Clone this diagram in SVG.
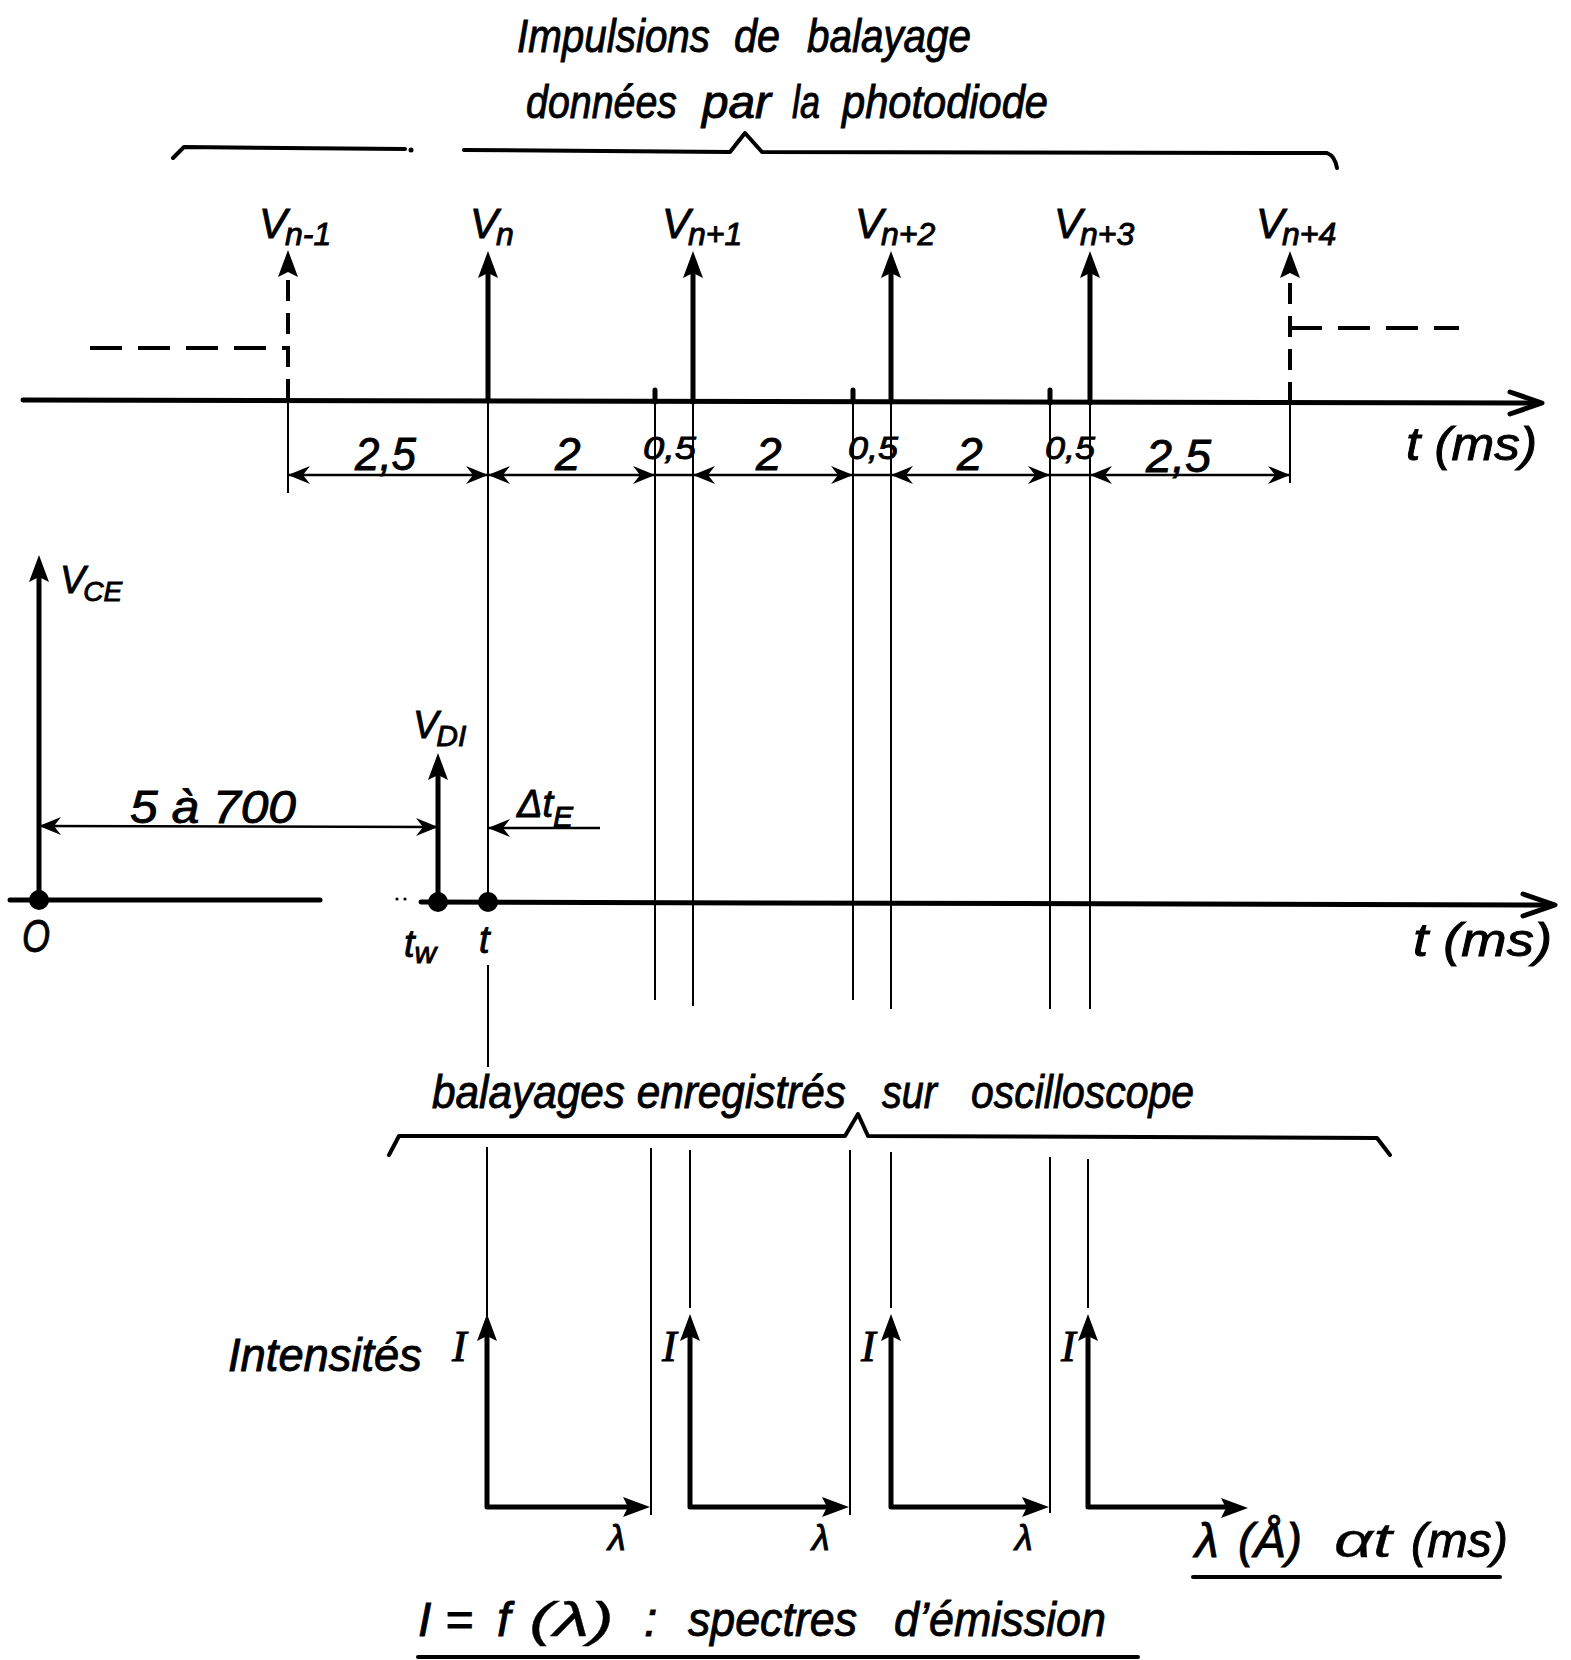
<svg xmlns="http://www.w3.org/2000/svg" width="1571" height="1660" viewBox="0 0 1571 1660">
<style>
.k{stroke:#000;fill:none;stroke-width:5;stroke-linecap:round;stroke-linejoin:round}
.b{stroke:#000;fill:none;stroke-width:4;stroke-linecap:round;stroke-linejoin:round}
.t{stroke:#000;fill:none;stroke-width:2}
.d{stroke:#000;fill:none;stroke-width:2.6}
.ds{stroke:#000;fill:none;stroke-width:4;stroke-dasharray:21 12}
.dh{stroke:#000;fill:none;stroke-width:4;stroke-dasharray:32 16}
text{font-family:"Liberation Sans",Arial,sans-serif;font-style:italic;fill:#000;stroke:#000;stroke-width:0.9}
.s46{font-size:46px}
.s42{font-size:42px}
.s32{font-size:32px}
.sf{font-family:"Liberation Serif","Times New Roman",serif;font-size:44px}
.dot{fill:#000}
</style>
<defs>
<path id="ph" d="M0,0 L10,27 L0,22 L-10,27 Z" fill="#000"/>
<path id="da" d="M0,0 L-22,-9 L-15,0 L-22,9 Z" fill="#000"/>
<path id="ch" d="M-32,-11 L0,0 L-32,11" class="k"/>
</defs>

<g id="title">
<text class="s46" x="517" y="52" textLength="193" lengthAdjust="spacingAndGlyphs">Impulsions</text>
<text class="s46" x="734" y="52" textLength="46" lengthAdjust="spacingAndGlyphs">de</text>
<text class="s46" x="807" y="52" textLength="164" lengthAdjust="spacingAndGlyphs">balayage</text>
<text class="s46" x="526" y="118" textLength="151" lengthAdjust="spacingAndGlyphs">données</text>
<text class="s46" x="702" y="118" textLength="69" lengthAdjust="spacingAndGlyphs">par</text>
<text class="s46" x="792" y="118" textLength="28" lengthAdjust="spacingAndGlyphs">la</text>
<text class="s46" x="842" y="118" textLength="206" lengthAdjust="spacingAndGlyphs">photodiode</text>
</g>

<g id="brace-top">
<path class="b" d="M173,158 L184,147 L405,149"/>
<circle class="dot" cx="411" cy="150" r="2.5"/>
<path class="b" d="M464,150 L730,152 L745,133 L762,152 L1327,153 Q1335,156 1337,168"/>
</g>

<g id="axis-top">
<path class="k" d="M23,400 L1540,403"/>
<use href="#ch" transform="translate(1542,403)"/>
<path class="k" d="M655,390 L655,402 M853,390 L853,402 M1050,390 L1050,403"/>
<text class="s46" x="1406" y="460" textLength="131" lengthAdjust="spacingAndGlyphs">t (ms)</text>
</g>

<g id="pulse-vn-1">
<path class="ds" d="M288,400 L288,276"/>
<use href="#ph" transform="translate(288,250)"/>
<path class="dh" d="M90,348 L288,348"/>
<text class="s42" x="259" y="238">V<tspan class="s32" dy="7" dx="-2">n-1</tspan></text>
</g>
<g id="pulse-vn">
<path class="k" d="M488,401 L488,272"/>
<use href="#ph" transform="translate(488,251)"/>
<text class="s42" x="470" y="238">V<tspan class="s32" dy="7" dx="-2">n</tspan></text>
</g>
<g id="pulse-vn+1">
<path class="k" d="M693,402 L693,272"/>
<use href="#ph" transform="translate(693,251)"/>
<text class="s42" x="662" y="238">V<tspan class="s32" dy="7" dx="-2">n+1</tspan></text>
</g>
<g id="pulse-vn+2">
<path class="k" d="M891,402 L891,272"/>
<use href="#ph" transform="translate(891,251)"/>
<text class="s42" x="855" y="238">V<tspan class="s32" dy="7" dx="-2">n+2</tspan></text>
</g>
<g id="pulse-vn+3">
<path class="k" d="M1090,403 L1090,272"/>
<use href="#ph" transform="translate(1090,251)"/>
<text class="s42" x="1054" y="238">V<tspan class="s32" dy="7" dx="-2">n+3</tspan></text>
</g>
<g id="pulse-vn+4">
<path class="ds" d="M1290,403 L1290,277"/>
<use href="#ph" transform="translate(1290,251)"/>
<path class="dh" d="M1290,328 L1459,328"/>
<text class="s42" x="1256" y="238">V<tspan class="s32" dy="7" dx="-2">n+4</tspan></text>
</g>

<g id="connectors">
<path class="t" d="M288,400 L288,493 M488,403 L488,902 M488,965 L488,1067 M655,402 L655,1000 M693,403 L693,1006 M853,403 L853,1000 M891,403 L891,1009 M1050,404 L1050,1009 M1090,404 L1090,1009 M1290,404 L1290,483"/>
<path class="t" d="M487,1147 L487,1316 M651,1148 L651,1515 M690,1150 L690,1308 M850,1150 L850,1515 M891,1152 L891,1308 M1050,1157 L1050,1513 M1088,1159 L1088,1308"/>
</g>

<g id="dims-top">
<path class="d" d="M288,475 L1290,475"/>
<use href="#da" transform="translate(288,475) scale(-1,1)"/>
<use href="#da" transform="translate(488,475)"/>
<use href="#da" transform="translate(488,475) scale(-1,1)"/>
<use href="#da" transform="translate(655,475)"/>
<use href="#da" transform="translate(693,475) scale(-1,1)"/>
<use href="#da" transform="translate(853,475)"/>
<use href="#da" transform="translate(891,475) scale(-1,1)"/>
<use href="#da" transform="translate(1050,475)"/>
<use href="#da" transform="translate(1090,475) scale(-1,1)"/>
<use href="#da" transform="translate(1290,475)"/>
<text class="s46" x="355" y="470" textLength="61" lengthAdjust="spacingAndGlyphs">2,5</text>
<text class="s46" x="555" y="470">2</text>
<text class="s32" x="643" y="459" textLength="53" lengthAdjust="spacingAndGlyphs">0,5</text>
<text class="s46" x="756" y="470">2</text>
<text class="s32" x="848" y="459" textLength="50" lengthAdjust="spacingAndGlyphs">0,5</text>
<text class="s46" x="957" y="470">2</text>
<text class="s32" x="1045" y="459" textLength="50" lengthAdjust="spacingAndGlyphs">0,5</text>
<text class="s46" x="1146" y="472" textLength="65" lengthAdjust="spacingAndGlyphs">2,5</text>
</g>

<g id="vce-axis">
<path class="k" d="M39,900 L39,578"/>
<use href="#ph" transform="translate(39,555)"/>
<text style="font-size:38px" x="60" y="593">V<tspan style="font-size:28px" dy="8" dx="-2">CE</tspan></text>
<circle class="dot" cx="39" cy="900" r="10"/>
<text class="s46" x="22" y="952" textLength="28" lengthAdjust="spacingAndGlyphs">O</text>
</g>

<g id="axis-bottom">
<path class="k" d="M10,900 L320,900"/>
<path class="k" d="M421,902 L1553,905"/>
<use href="#ch" transform="translate(1555,905)"/>
<circle class="dot" cx="397" cy="899" r="1.6"/>
<circle class="dot" cx="405" cy="899" r="1.6"/>
<text style="font-size:38px" x="404" y="957">t<tspan style="font-size:30px" dy="6">w</tspan></text>
<text style="font-size:38px" x="479" y="953">t</text>
<text class="s46" x="1413" y="956" textLength="139" lengthAdjust="spacingAndGlyphs">t (ms)</text>
</g>

<g id="vdi">
<path class="k" d="M438,902 L438,775"/>
<use href="#ph" transform="translate(438,753)"/>
<text style="font-size:38px" x="413" y="738">V<tspan style="font-size:30px" dy="8" dx="-2">DI</tspan></text>
<circle class="dot" cx="438" cy="902" r="10"/>
<circle class="dot" cx="488" cy="902" r="10"/>
</g>

<g id="dims-bottom">
<path class="d" d="M39,826 L438,827"/>
<use href="#da" transform="translate(39,826) scale(-1,1)"/>
<use href="#da" transform="translate(438,827)"/>
<text class="s46" x="130" y="823" textLength="166" lengthAdjust="spacingAndGlyphs">5 à 700</text>
<path class="d" d="M488,828 L600,828"/>
<use href="#da" transform="translate(488,828) scale(-1,1)"/>
<text style="font-size:38px" x="517" y="817">Δt<tspan style="font-size:30px" dy="10">E</tspan></text>
</g>

<g id="brace-bottom">
<path class="b" d="M389,1155 L399,1136 L845,1136 L858,1114 L868,1136 L1377,1138 L1390,1155"/>
<text class="s46" x="432" y="1108" textLength="414" lengthAdjust="spacingAndGlyphs">balayages enregistrés</text>
<text class="s46" x="882" y="1108" textLength="55" lengthAdjust="spacingAndGlyphs">sur</text>
<text class="s46" x="971" y="1108" textLength="223" lengthAdjust="spacingAndGlyphs">oscilloscope</text>
</g>

<g id="spectra-label">
<text class="s46" x="228" y="1371" textLength="194" lengthAdjust="spacingAndGlyphs">Intensités</text>
</g>

<g id="spectrum-1">
<path class="k" d="M487,1337 L487,1507 L628,1507"/>
<use href="#ph" transform="translate(487,1314)"/>
<use href="#ph" transform="translate(650,1507) rotate(90)"/>
<text class="sf" x="452" y="1361">I</text>
<text style="font-size:36px" x="608" y="1550">λ</text>
</g>
<g id="spectrum-2">
<path class="k" d="M690,1337 L690,1507 L827,1507"/>
<use href="#ph" transform="translate(690,1314)"/>
<use href="#ph" transform="translate(849,1507) rotate(90)"/>
<text class="sf" x="662" y="1361">I</text>
<text style="font-size:36px" x="812" y="1550">λ</text>
</g>
<g id="spectrum-3">
<path class="k" d="M891,1337 L891,1507 L1027,1507"/>
<use href="#ph" transform="translate(891,1314)"/>
<use href="#ph" transform="translate(1049,1507) rotate(90)"/>
<text class="sf" x="861" y="1361">I</text>
<text style="font-size:36px" x="1015" y="1550">λ</text>
</g>
<g id="spectrum-4">
<path class="k" d="M1088,1337 L1088,1507 L1226,1507"/>
<use href="#ph" transform="translate(1088,1314)"/>
<use href="#ph" transform="translate(1248,1508) rotate(90)"/>
<text class="sf" x="1061" y="1361">I</text>
</g>

<g id="axis-label">
<text style="font-size:48px" x="1195" y="1557">λ</text>
<text style="font-size:48px" x="1238" y="1557" textLength="64" lengthAdjust="spacingAndGlyphs">(Å)</text>
<text style="font-size:48px;stroke-width:0.3" x="1334" y="1557" textLength="58" lengthAdjust="spacingAndGlyphs">αt</text>
<text style="font-size:48px" x="1411" y="1557" textLength="97" lengthAdjust="spacingAndGlyphs">(ms)</text>
<path class="b" d="M1193,1577 L1500,1577"/>
</g>

<g id="caption">
<text style="font-size:48px" x="418" y="1636">I</text>
<text style="font-size:48px" x="445" y="1636">=</text>
<text style="font-size:48px" x="497" y="1636">f</text>
<text style="font-size:48px;stroke-width:0.3" x="529" y="1636" textLength="85" lengthAdjust="spacingAndGlyphs">(λ)</text>
<text style="font-size:48px" x="644" y="1636">:</text>
<text style="font-size:48px" x="688" y="1636" textLength="169" lengthAdjust="spacingAndGlyphs">spectres</text>
<text style="font-size:48px" x="894" y="1636" textLength="212" lengthAdjust="spacingAndGlyphs">d’émission</text>
<path class="b" d="M418,1657 L1138,1657"/>
</g>
</svg>
